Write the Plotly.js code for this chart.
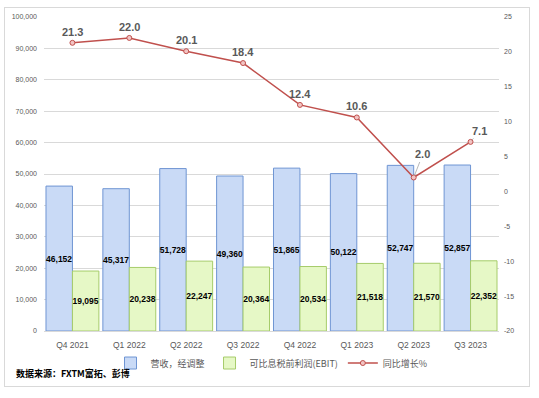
<!DOCTYPE html>
<html>
<head>
<meta charset="utf-8">
<script src="https://cdn.plot.ly/plotly-3.0.1.min.js"></script>
<style>
body{margin:0;padding:0;background:#fff;}
#frame{position:absolute;left:4px;top:7px;width:524px;height:378px;border:1px solid #D9D9D9;}
#chart{position:absolute;left:0;top:0;width:539px;height:398px;}
</style>
</head>
<body>
<div id="frame"></div>
<div id="chart"></div>
<script>
const categories = ['Q4 2021','Q1 2022','Q2 2022','Q3 2022','Q4 2022','Q1 2023','Q2 2023','Q3 2023'];
const revenue = [46152, 45317, 51728, 49360, 51865, 50122, 52747, 52857];
const ebit = [19095, 20238, 22247, 20364, 20534, 21518, 21570, 22352];
const growth = [21.3, 22.0, 20.1, 18.4, 12.4, 10.6, 2.0, 7.1];
const seriesNames = ['营收，经调整', '可比息税前利润(EBIT)', '同比增长%'];
const y2TickVals = [-20, -15, -10, -5, 0, 5, 10, 15, 20, 25];
const y2TickText = ['-20', '-15', '-10', '-5', '0', '5', '10', '15', '20', '25'];
const sourceText = '数据来源：FXTM富拓、彭博';

const fmt = v => v.toLocaleString('en-US');
const barFont = {family: 'Liberation Sans, Arial, sans-serif', size: 8.5, color: '#000000', weight: 'bold'};

const traces = [
  {
    type: 'bar', name: seriesNames[0], x: categories, y: revenue,
    text: revenue.map(fmt), textposition: 'inside', insidetextanchor: 'middle',
    constraintext: 'none', cliponaxis: false,
    textangle: 0, textfont: barFont,
    marker: {color: '#C9DAF6', line: {color: '#6F95D3', width: 1}},
    hoverinfo: 'skip'
  },
  {
    type: 'bar', name: seriesNames[1], x: categories, y: ebit,
    text: ebit.map(fmt), textposition: 'inside', insidetextanchor: 'middle',
    constraintext: 'none', cliponaxis: false,
    textangle: 0, textfont: barFont,
    marker: {color: '#E6F8C6', line: {color: '#A6CC6A', width: 1}},
    hoverinfo: 'skip'
  },
  {
    type: 'scatter', mode: 'lines+markers', name: seriesNames[2], x: categories, y: growth,
    yaxis: 'y2',
    line: {color: '#C0504D', width: 1.5},
    marker: {symbol: 'circle', size: 5, color: '#F2C4C3', line: {color: '#C0504D', width: 1}},
    hoverinfo: 'skip'
  }
];

// label offsets (style, not data)
const labelShift = {6: {ax: 9, ay: -23, arrow: true}, 7: {ax: 9, ay: -11, arrow: true}};
const annotations = growth.map((g, i) => {
  const s = labelShift[i];
  const base = {
    x: categories[i], y: g, xref: 'x', yref: 'y2',
    text: g.toFixed(1),
    font: {family: 'Liberation Sans, Arial, sans-serif', size: 11, color: '#595959', weight: 'bold'}
  };
  if (s) {
    return Object.assign(base, {showarrow: true, ax: s.ax, ay: s.ay, arrowhead: 0, arrowwidth: 0.8, arrowcolor: '#A6A6A6', standoff: 2});
  }
  return Object.assign(base, {showarrow: false, yshift: 11});
});
annotations.push({
  xref: 'paper', yref: 'paper', x: -0.066, y: -0.134, xanchor: 'left', yanchor: 'middle',
  text: sourceText, showarrow: false,
  font: {family: 'Noto Sans CJK SC, sans-serif', size: 9, color: '#000000', weight: 'bold'}
});

const layout = {
  width: 539, height: 398,
  margin: {l: 44, r: 40, t: 17, b: 67},
  paper_bgcolor: 'rgba(0,0,0,0)', plot_bgcolor: 'rgba(0,0,0,0)',
  barmode: 'group', bargap: 0.07, bargroupgap: 0,
  font: {family: 'Liberation Sans, Arial, sans-serif', color: '#595959'},
  xaxis: {
    type: 'category', showgrid: false, zeroline: false,
    showline: true, linecolor: '#D9D9D9', linewidth: 1,
    ticks: '', tickfont: {size: 8.5, color: '#595959'}, ticklabelstandoff: 6
  },
  yaxis: {
    range: [0, 100000], dtick: 10000, tickformat: ',d',
    showgrid: true, gridcolor: '#D9D9D9', gridwidth: 1, zeroline: false,
    showline: false, ticks: '', tickfont: {size: 7, color: '#595959'}, ticklabelstandoff: 6
  },
  yaxis2: {
    overlaying: 'y', side: 'right', range: [-20, 25],
    tickvals: y2TickVals, ticktext: y2TickText,
    showgrid: false, zeroline: false, showline: false, ticks: '',
    tickfont: {size: 7, color: '#595959'}, ticklabelstandoff: 4
  },
  showlegend: true,
  legend: {
    orientation: 'h', x: 0.5, xanchor: 'center', y: -0.102, yanchor: 'middle',
    font: {family: 'Noto Sans CJK SC, sans-serif', size: 9, color: '#595959'},
    bgcolor: 'rgba(0,0,0,0)', traceorder: 'normal', itemwidth: 30
  },
  annotations: annotations
};

Plotly.newPlot('chart', traces, layout, {displayModeBar: false, staticPlot: true});
</script>
</body>
</html>
